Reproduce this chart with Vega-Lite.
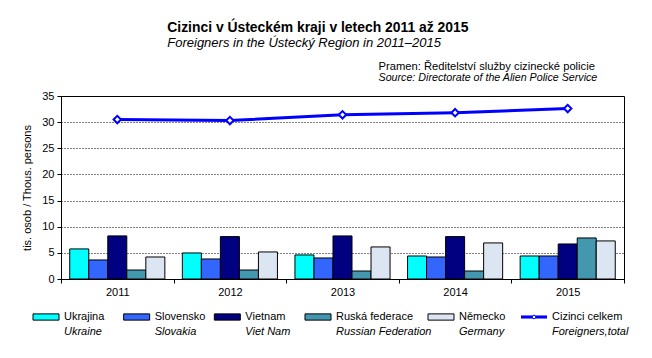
{
  "$schema": "https://vega.github.io/schema/vega-lite/v6.json",
  "background": "white",
  "autosize": "pad",
  "padding": {"left": 21, "top": 20, "right": 5, "bottom": 0},
  "config": {
    "font": "Liberation Sans",
    "view": {"stroke": null},
    "concat": {"spacing": 29},
    "axis": {"labelColor": "black", "titleColor": "black", "domainColor": "black", "tickColor": "black", "labelFont": "Liberation Sans", "titleFont": "Liberation Sans"}
  },
  "bounds": "flush",
  "title": {
    "text": "Cizinci v Ústeckém  kraji v letech 2011 až 2015",
    "subtitle": "Foreigners in the Ústecký Region in 2011–2015",
    "fontSize": 13.9,
    "fontWeight": "bold",
    "color": "black",
    "subtitleFontSize": 13,
    "subtitleFontStyle": "italic",
    "subtitleColor": "black",
    "subtitlePadding": 2,
    "anchor": "start",
    "dx": 146,
    "offset": 11
  },
  "datasets": {
    "bars": [
      {"year": "2011", "series": "Ukrajina", "value": 5.75},
      {"year": "2011", "series": "Slovensko", "value": 3.64},
      {"year": "2011", "series": "Vietnam", "value": 8.24},
      {"year": "2011", "series": "Ruská federace", "value": 1.72},
      {"year": "2011", "series": "Německo", "value": 4.21},
      {"year": "2012", "series": "Ukrajina", "value": 4.98},
      {"year": "2012", "series": "Slovensko", "value": 3.83},
      {"year": "2012", "series": "Vietnam", "value": 8.11},
      {"year": "2012", "series": "Ruská federace", "value": 1.72},
      {"year": "2012", "series": "Německo", "value": 5.17},
      {"year": "2013", "series": "Ukrajina", "value": 4.6},
      {"year": "2013", "series": "Slovensko", "value": 4.02},
      {"year": "2013", "series": "Vietnam", "value": 8.24},
      {"year": "2013", "series": "Ruská federace", "value": 1.53},
      {"year": "2013", "series": "Německo", "value": 6.13},
      {"year": "2014", "series": "Ukrajina", "value": 4.4},
      {"year": "2014", "series": "Slovensko", "value": 4.21},
      {"year": "2014", "series": "Vietnam", "value": 8.11},
      {"year": "2014", "series": "Ruská federace", "value": 1.53},
      {"year": "2014", "series": "Německo", "value": 6.9},
      {"year": "2015", "series": "Ukrajina", "value": 4.4},
      {"year": "2015", "series": "Slovensko", "value": 4.4},
      {"year": "2015", "series": "Vietnam", "value": 6.7},
      {"year": "2015", "series": "Ruská federace", "value": 7.85},
      {"year": "2015", "series": "Německo", "value": 7.28}
    ],
    "total": [
      {"year": "2011", "value": 30.5},
      {"year": "2012", "value": 30.3},
      {"year": "2013", "value": 31.4},
      {"year": "2014", "value": 31.8},
      {"year": "2015", "value": 32.6}
    ],
    "legend": [
      {"series": "Ukrajina", "english": "Ukraine", "kind": "bar"},
      {"series": "Slovensko", "english": "Slovakia", "kind": "bar"},
      {"series": "Vietnam", "english": "Viet Nam", "kind": "bar"},
      {"series": "Ruská federace", "english": "Russian Federation", "kind": "bar"},
      {"series": "Německo", "english": "Germany", "kind": "bar"},
      {"series": "Cizinci celkem", "english": "Foreigners,total", "kind": "line"}
    ]
  },
  "resolve": {"scale": {"x": "independent", "y": "independent"}},
  "vconcat": [
    {
      "width": 563,
      "height": 183,
      "view": {"stroke": "black", "strokeWidth": 1},
      "title": {
        "text": "Pramen: Ředitelství služby cizinecké policie",
        "subtitle": "Source: Directorate of the Alien Police Service",
        "fontSize": 11.2,
        "fontWeight": "normal",
        "color": "black",
        "subtitleFontSize": 10.7,
        "subtitleFontStyle": "italic",
        "subtitleColor": "black",
        "subtitlePadding": 1,
        "anchor": "end",
        "align": "left",
        "dx": -246,
        "offset": 7
      },
      "encoding": {
        "x": {"field": "year", "type": "nominal", "scale": {"paddingInner": 0, "paddingOuter": 0},
          "axis": {"title": null, "labelAngle": 0, "labelFontSize": 11, "tickBand": "extent", "tickSize": 4, "labelPadding": 3, "domainColor": "black"}},
        "y": {"field": "value", "type": "quantitative",
          "scale": {"domain": [0, 35], "nice": false},
          "axis": {"values": [0, 5, 10, 15, 20, 25, 30, 35], "grid": true, "gridColor": "black", "gridDash": [1, 2], "gridWidth": 1,
            "title": "tis. osob / Thous. persons", "titleFontSize": 11, "titleFontWeight": "normal", "titlePadding": 9,
            "labelFontSize": 11, "tickSize": 4, "labelPadding": 3, "labelOverlap": false}}
      },
      "layer": [
        {
          "data": {"name": "bars"},
          "mark": {"type": "bar", "stroke": "black", "strokeWidth": 1},
          "encoding": {
            "xOffset": {"field": "series", "type": "nominal",
              "sort": ["Ukrajina", "Slovensko", "Vietnam", "Ruská federace", "Německo"],
              "scale": {"paddingInner": 0, "paddingOuter": 0.46}},
            "color": {"field": "series", "type": "nominal", "legend": null,
              "scale": {"domain": ["Ukrajina", "Slovensko", "Vietnam", "Ruská federace", "Německo", "Cizinci celkem"],
                "range": ["#00FFFF", "#3366FF", "#000080", "#4398B0", "#DCE6F2", "#0000FF"]}}
          }
        },
        {
          "data": {"name": "total"},
          "mark": {"type": "line", "color": "#0000FF", "strokeWidth": 3,
            "point": {"shape": "diamond", "filled": true, "fill": "white", "stroke": "#0000FF", "strokeWidth": 2, "size": 55}},
          "encoding": {}
        }
      ]
    },
    {
      "bounds": "flush",
      "spacing": 123,
      "resolve": {"scale": {"x": "independent"}},
      "hconcat": [
        {
          "width": 272,
          "height": 30,
          "data": {"name": "legend"},
          "transform": [{"filter": "datum.series != 'Německo' && datum.kind == 'bar'"}],
          "encoding": {
            "x": {"field": "series", "type": "nominal", "axis": null,
              "scale": {"type": "point", "domain": ["Ukrajina", "Slovensko", "Vietnam", "Ruská federace"], "padding": 0}}
          },
          "layer": [
            {
              "mark": {"type": "point", "shape": "M-1,-0.24H1V0.24H-1Z", "size": 676, "filled": true, "stroke": "black", "strokeWidth": 1, "xOffset": -15, "yOffset": -6, "opacity": 1},
              "encoding": {"color": {"field": "series", "type": "nominal", "legend": null}}
            },
            {
              "mark": {"type": "text", "align": "left", "baseline": "middle", "fontSize": 11, "color": "black", "dx": 3, "dy": -6},
              "encoding": {"text": {"field": "series"}}
            },
            {
              "mark": {"type": "text", "align": "left", "baseline": "middle", "fontSize": 11, "fontStyle": "italic", "color": "black", "dx": 3, "dy": 9},
              "encoding": {"text": {"field": "english"}}
            }
          ]
        },
        {
          "width": 93,
          "height": 30,
          "data": {"name": "legend"},
          "transform": [{"filter": "datum.series == 'Německo' || datum.kind == 'line'"}],
          "encoding": {
            "x": {"field": "series", "type": "nominal", "axis": null,
              "scale": {"type": "point", "domain": ["Německo", "Cizinci celkem"], "padding": 0}}
          },
          "layer": [
            {
              "transform": [{"filter": "datum.kind == 'bar'"}],
              "mark": {"type": "point", "shape": "M-1,-0.24H1V0.24H-1Z", "size": 676, "filled": true, "stroke": "black", "strokeWidth": 1, "xOffset": -15, "yOffset": -6, "opacity": 1},
              "encoding": {"color": {"field": "series", "type": "nominal", "legend": null}}
            },
            {
              "transform": [{"filter": "datum.kind == 'line'"}],
              "mark": {"type": "point", "shape": "M-1,-0.12H1V0.12H-1Z", "size": 676, "filled": true, "color": "#0000FF", "xOffset": -15, "yOffset": -6, "opacity": 1}
            },
            {
              "transform": [{"filter": "datum.kind == 'line'"}],
              "mark": {"type": "point", "shape": "diamond", "size": 18, "filled": true, "fill": "white", "stroke": "#0000FF", "strokeWidth": 1, "xOffset": -15, "yOffset": -6, "opacity": 1}
            },
            {
              "mark": {"type": "text", "align": "left", "baseline": "middle", "fontSize": 11, "color": "black", "dx": 3, "dy": -6},
              "encoding": {"text": {"field": "series"}}
            },
            {
              "mark": {"type": "text", "align": "left", "baseline": "middle", "fontSize": 11, "fontStyle": "italic", "color": "black", "dx": 3, "dy": 9},
              "encoding": {"text": {"field": "english"}}
            }
          ]
        }
      ]
    }
  ]
}
